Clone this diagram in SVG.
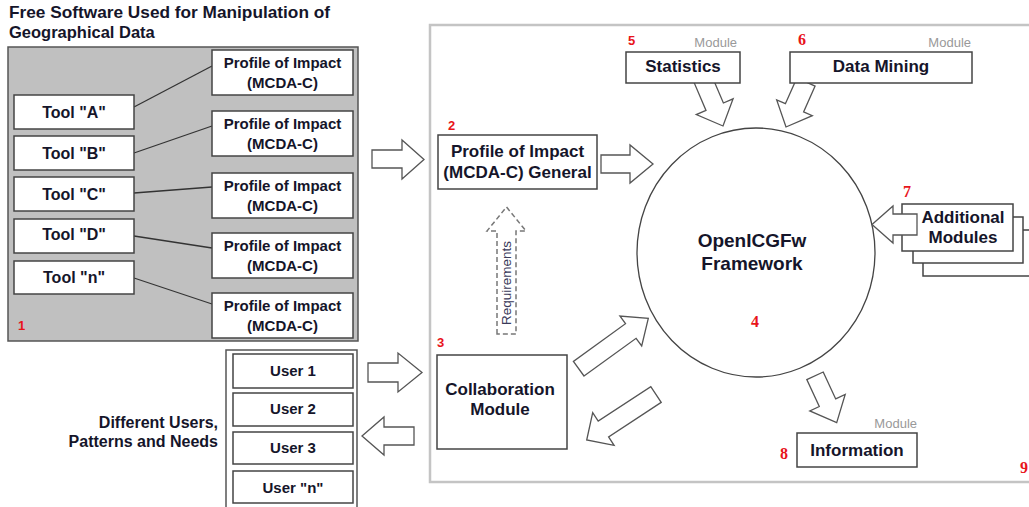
<svg xmlns="http://www.w3.org/2000/svg" width="1029" height="507" viewBox="0 0 1029 507">
<style>
text{font-family:"Liberation Sans",Arial,sans-serif;fill:#15152a}
.b{font-weight:bold}
.box{fill:#fff;stroke:#444;stroke-width:1.5}
.arr{fill:#fff;stroke:#555;stroke-width:1.3;stroke-linejoin:miter}
.ln{stroke:#333;stroke-width:1.3;fill:none}
.num{font-weight:bold;font-size:13px;fill:#e8141a}
.nums{font-family:"Liberation Serif","Times New Roman",serif;font-weight:bold;font-size:16px;fill:#e8141a}
.mod{font-size:13px;fill:#999}
.t15{font-size:15px;font-weight:bold}
.t16{font-size:16px;font-weight:bold}
.t17{font-size:17px;font-weight:bold}
</style>
<rect width="1029" height="507" fill="#fff"/>
<!-- outer frame -->
<rect x="430" y="25" width="700" height="457" fill="none" stroke="#c4c4c4" stroke-width="2.5"/>

<!-- title -->
<g id="title">
<text x="9" y="18" class="b" font-size="16.5" textLength="321" lengthAdjust="spacingAndGlyphs">Free Software Used for Manipulation of</text>
<text x="9" y="38" class="b" font-size="16.5">Geographical Data</text>
</g>

<!-- gray panel -->
<g id="panel">
<rect x="8" y="47" width="350" height="294" fill="#c0c0c0" stroke="#555" stroke-width="1.5"/>
<text x="18" y="330" class="num">1</text>
</g>

<!-- connectors -->
<g id="connectors">
<line class="ln" x1="134" y1="107" x2="212" y2="66"/>
<line class="ln" x1="134" y1="153" x2="212" y2="126"/>
<line class="ln" x1="134" y1="193" x2="212" y2="187"/>
<line class="ln" x1="134" y1="236" x2="212" y2="248"/>
<line class="ln" x1="134" y1="278" x2="212" y2="304"/>
<path class="arr" d="M372,150 H402 V140 L424,159.5 L402,179 V168 H372 Z"/>
<path class="arr" d="M601,155 H630 V145 L653,164 L630,183 V173 H601 Z"/>
<path class="arr" d="M368,363 H398 V353 L422,372.5 L398,392 V382 H368 Z"/>
<path class="arr" d="M414,427 H384 V417 L362,436 L384,455 V445 H414 Z"/>
<polygon class="arr" points="710.7,73.3 723.4,103 733.1,98.8 723,126 696.3,114.6 706,110.4 693.3,80.7"/>
<polygon class="arr" points="815.1,86.1 803.6,111.9 812.3,115.7 786,127 776.7,99.9 785.4,103.7 796.9,77.9"/>
<polygon class="arr" points="584,376 636.1,338.3 641.7,346 648.3,318.3 619.9,316 625.5,323.7 573.4,361.4"/>
<polygon class="arr" points="661.2,402.4 608.6,436.9 614.1,445.3 586.7,440 592.7,412.7 598.2,421.1 650.8,386.6"/>
<polygon class="arr" points="823.2,372 835.7,398.9 845.2,394.5 836.7,422.7 809.8,410.9 819.3,406.5 806.8,379.6"/>
<path d="M497,334 V231 H487 L506.5,207 L526,231 H516 V334 Z" fill="none" stroke="#777" stroke-width="1.5" stroke-dasharray="5,3"/>
<text transform="translate(511,283) rotate(-90)" text-anchor="middle" font-size="13.5" style="fill:#3a3a5a">Requirements</text>
</g>

<!-- tools -->
<g id="toolA"><rect class="box" x="14" y="95" width="120" height="34"/><text x="74" y="118" text-anchor="middle" class="t16">Tool "A"</text></g>
<g id="toolB"><rect class="box" x="14" y="136" width="120" height="34"/><text x="74" y="159" text-anchor="middle" class="t16">Tool "B"</text></g>
<g id="toolC"><rect class="box" x="14" y="177" width="120" height="34"/><text x="74" y="200" text-anchor="middle" class="t16">Tool "C"</text></g>
<g id="toolD"><rect class="box" x="14" y="219" width="120" height="34"/><text x="74" y="240" text-anchor="middle" class="t16">Tool "D"</text></g>
<g id="toolN"><rect class="box" x="14" y="261" width="120" height="33"/><text x="74" y="283" text-anchor="middle" class="t16">Tool "n"</text></g>

<!-- profiles -->
<g id="profile1"><rect class="box" x="212" y="50" width="141" height="45"/><text x="282.5" y="68" text-anchor="middle" class="t15">Profile of Impact</text><text x="282.5" y="88" text-anchor="middle" class="t15">(MCDA-C)</text></g>
<g id="profile2"><rect class="box" x="212" y="111" width="141" height="45"/><text x="282.5" y="129" text-anchor="middle" class="t15">Profile of Impact</text><text x="282.5" y="149" text-anchor="middle" class="t15">(MCDA-C)</text></g>
<g id="profile3"><rect class="box" x="212" y="173" width="141" height="45"/><text x="282.5" y="191" text-anchor="middle" class="t15">Profile of Impact</text><text x="282.5" y="211" text-anchor="middle" class="t15">(MCDA-C)</text></g>
<g id="profile4"><rect class="box" x="212" y="233" width="141" height="45"/><text x="282.5" y="251" text-anchor="middle" class="t15">Profile of Impact</text><text x="282.5" y="271" text-anchor="middle" class="t15">(MCDA-C)</text></g>
<g id="profile5"><rect class="box" x="212" y="293" width="141" height="45"/><text x="282.5" y="311" text-anchor="middle" class="t15">Profile of Impact</text><text x="282.5" y="331" text-anchor="middle" class="t15">(MCDA-C)</text></g>

<!-- general profile -->
<g id="general"><text x="448" y="130" class="num">2</text><rect class="box" x="438" y="135" width="159" height="54"/><text x="517.5" y="157" text-anchor="middle" class="t17">Profile of Impact</text><text x="517.5" y="178" text-anchor="middle" class="t17">(MCDA-C) General</text></g>

<!-- statistics -->
<g id="statistics"><text x="628" y="45" class="num">5</text><text x="737" y="47" text-anchor="end" class="mod">Module</text><rect class="box" x="626" y="52" width="114" height="31"/><text x="683" y="72" text-anchor="middle" class="t17">Statistics</text></g>

<!-- data mining -->
<g id="datamining"><text x="798" y="45" class="nums">6</text><text x="971" y="47" text-anchor="end" class="mod">Module</text><rect class="box" x="790" y="52" width="182" height="31"/><text x="881" y="72" text-anchor="middle" class="t17">Data Mining</text></g>

<!-- framework -->
<g id="framework"><ellipse cx="756" cy="252.5" rx="119" ry="124.5" fill="none" stroke="#444" stroke-width="1.3"/><text x="752" y="247" text-anchor="middle" font-size="19" class="b">OpenICGFw</text><text x="752" y="270" text-anchor="middle" font-size="19" class="b">Framework</text><text x="751" y="327" class="nums">4</text></g>

<!-- additional modules -->
<g id="additional">
<rect class="box" x="923" y="230" width="120" height="46"/>
<rect class="box" x="913" y="217" width="110" height="46"/>
<rect class="box" x="902" y="204" width="111" height="47"/>
<text x="903" y="197" class="nums">7</text>
<path class="arr" d="M917,214 H893 V206 L872,224.5 L893,243 V235 H917 Z"/>
<text x="963" y="223" text-anchor="middle" class="t17">Additional</text>
<text x="963" y="243" text-anchor="middle" class="t17">Modules</text>
</g>

<!-- collaboration -->
<g id="collaboration"><text x="437" y="347" class="num">3</text><rect class="box" x="437" y="355" width="130" height="94"/><text x="500" y="395" text-anchor="middle" class="t17">Collaboration</text><text x="500" y="415" text-anchor="middle" class="t17">Module</text></g>

<!-- information -->
<g id="information"><text x="917" y="428" text-anchor="end" class="mod">Module</text><rect class="box" x="797" y="433" width="120" height="34"/><text x="857" y="456" text-anchor="middle" class="t17">Information</text><text x="780" y="459" class="nums">8</text></g>

<text x="1020" y="473" class="nums">9</text>

<!-- users -->
<g id="users">
<rect x="226" y="350" width="131" height="165" fill="#fff" stroke="#555" stroke-width="1.5"/>
<rect class="box" x="233" y="354" width="120" height="34"/><text x="293" y="376" text-anchor="middle" class="t15">User 1</text>
<rect class="box" x="233" y="393" width="120" height="33"/><text x="293" y="414" text-anchor="middle" class="t15">User 2</text>
<rect class="box" x="233" y="432" width="120" height="32"/><text x="293" y="453" text-anchor="middle" class="t15">User 3</text>
<rect class="box" x="233" y="471" width="120" height="32"/><text x="293" y="493" text-anchor="middle" class="t15">User "n"</text>
<text x="218" y="428" text-anchor="end" class="t16">Different Users,</text>
<text x="218" y="447" text-anchor="end" class="t16">Patterns and Needs</text>
</g>
</svg>
